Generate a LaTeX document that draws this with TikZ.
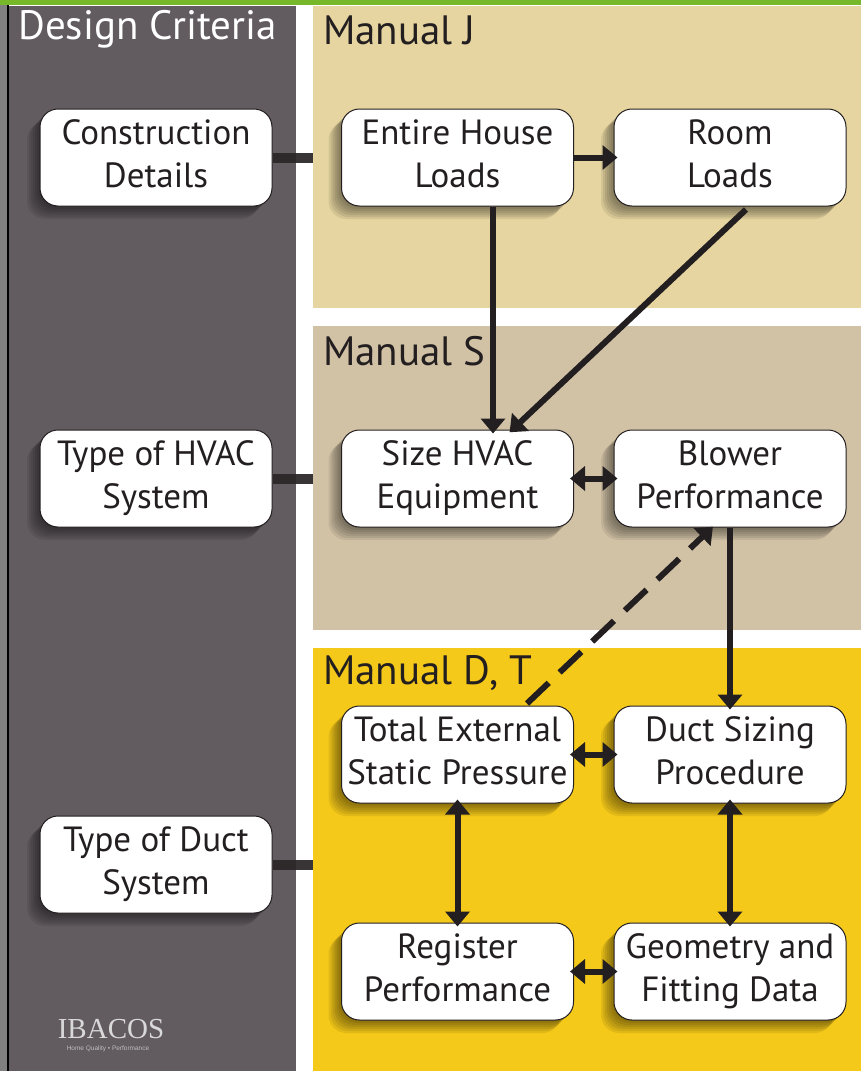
\documentclass[tikz,border=0pt]{standalone}
\usepackage{fontspec}
\setmainfont{PT Sans}
\newfontfamily\logofont{Liberation Serif}
\newfontfamily\tagfont{Liberation Sans}
\usetikzlibrary{arrows.meta}
\definecolor{criteriagray}{HTML}{625B5F}
\definecolor{manualj}{HTML}{E6D5A0}
\definecolor{manuals}{HTML}{D2C2A5}
\definecolor{manuald}{HTML}{F5C91A}
\definecolor{inkdark}{HTML}{231F20}
\definecolor{topgreen}{HTML}{76B82A}
% two centred lines on fixed baselines
\newcommand{\boxlines}[2]{\rule[-13pt]{0pt}{43pt}#1\\\rule[-13pt]{0pt}{43pt}#2}
\tikzset{
  panel/.style={draw=none,inner sep=0pt,outer sep=0pt,anchor=north west},
  paneltitle/.style={anchor=west,inner sep=0pt,text=inkdark,font=\fontsize{41}{41}\selectfont},
  boxshade/.style={preaction={fill=black,opacity=.08,transform canvas={shift={(-#1pt,-#1pt)}}}},
  stepshade/.style={boxshade=13,boxshade=11,boxshade=9,boxshade=7,boxshade=5,boxshade=3,boxshade=1},
  flowbox/.style={stepshade,draw=inkdark,line width=1pt,fill=white,rounded corners=18pt,
    minimum width=232pt,minimum height=97pt,inner sep=0pt,align=center,text=inkdark,
    font=\fontsize{35}{43}\selectfont},
  flow/.style={line width=6pt,color=inkdark,-{Triangle[length=15pt,width=24pt]},shorten >=-4pt},
  twoway/.style={line width=6pt,color=inkdark,{Triangle[length=15pt,width=24pt]}-{Triangle[length=15pt,width=24pt]},shorten >=-4pt,shorten <=-4pt},
}
\begin{document}
\begin{tikzpicture}[x=1pt,y=-1pt]
  \useasboundingbox (0,0) rectangle (861,1071);
  % page edges
  \fill[white] (0,0) rectangle (861,1071);
  \fill[gray] (0,0) rectangle (8,1071);
  \draw[line width=2pt,black] (8,5) -- (8,1071);
  \fill[topgreen] (0,0) rectangle (861,5);
  % the four coloured panels
  \node[panel,fill=criteriagray,minimum width=287pt,minimum height=1065pt] (criteria) at (9,6) {};
  \node[panel,fill=manualj,minimum width=548pt,minimum height=302pt] (jpanel) at (313,6) {};
  \node[panel,fill=manuals,minimum width=548pt,minimum height=304pt] (spanel) at (313,326) {};
  \node[panel,fill=manuald,minimum width=548pt,minimum height=423pt] (dpanel) at (313,648) {};
  % panel titles
  \node[paneltitle,text=white] (criteriatitle) at (18,29) {Design Criteria};
  \node[paneltitle] (jtitle) at (323,30) {Manual J};
  \node[paneltitle] (stitle) at (323,351) {Manual S};
  \node[paneltitle] (dtitle) at (323,673) {Manual D, T};
  % design criteria column
  \node[flowbox] (construction) at (156,157.5) {\boxlines{Construction}{Details}};
  \node[flowbox] (hvactype) at (156,478.5) {\boxlines{Type of HVAC}{System}};
  \node[flowbox] (ducttype) at (156,864.5) {\boxlines{Type of Duct}{System}};
  % manual boxes
  \node[flowbox] (house) at (457.5,157.5) {\boxlines{Entire House}{Loads}};
  \node[flowbox] (room) at (730,157.5) {\boxlines{Room}{Loads}};
  \node[flowbox] (size) at (457.5,478.5) {\boxlines{Size HVAC}{Equipment}};
  \node[flowbox] (blower) at (730,478.5) {\boxlines{Blower}{Performance}};
  \node[flowbox] (static) at (457.5,754.5) {\boxlines{Total External}{Static Pressure}};
  \node[flowbox] (sizing) at (730,754.5) {\boxlines{Duct Sizing}{Procedure}};
  \node[flowbox] (register) at (457.5,971.5) {\boxlines{Register}{Performance}};
  \node[flowbox] (geometry) at (730,971.5) {\boxlines{Geometry and}{Fitting Data}};
  % stubs from criteria boxes to their panels
  \foreach \src/\dst in {construction/jpanel,hvactype/spanel,ducttype/dpanel} {
    \draw[line width=10pt,color=inkdark!95!white] (\src.east) -- (\src.east -| criteria.east);
    \draw[line width=10pt,color=inkdark!90!white] (\src.east -| criteria.east) -- (\src.east -| \dst.west);
  }
  % load flows
  \draw[flow] (house.east) -- (room.west);
  \draw[flow] ([xshift=35.5pt]house.south) -- ([xshift=35.5pt]size.north);
  \draw[flow] ([xshift=16pt,yshift=-3pt]room.south) -- ([xshift=55pt]size.north);
  % two way links
  \draw[twoway] (size.east) -- (blower.west);
  \draw[twoway] (static.east) -- (sizing.west);
  \draw[twoway] (register.east) -- (geometry.west);
  \draw[twoway] (static.south) -- (register.north);
  \draw[twoway] (sizing.south) -- (geometry.north);
  % blower down to duct sizing, dashed feedback
  \draw[flow] (blower.south) -- (sizing.north);
  \draw[flow,dash pattern=on 30pt off 15pt] ([xshift=69.5pt,yshift=2pt]static.north) -- ([xshift=-20pt,yshift=-2pt]blower.south);
  % logo
  \node[inner sep=0pt,text=white!85!black,font=\logofont\fontsize{29}{29}\selectfont] (logo) at (111,1029) {IBACOS};
  \node[inner sep=0pt,text=white!75!black,font=\tagfont\fontsize{6.5}{6.5}\selectfont] (tagline) at (108,1049) {Home Quality • Performance};
\end{tikzpicture}
\end{document}
